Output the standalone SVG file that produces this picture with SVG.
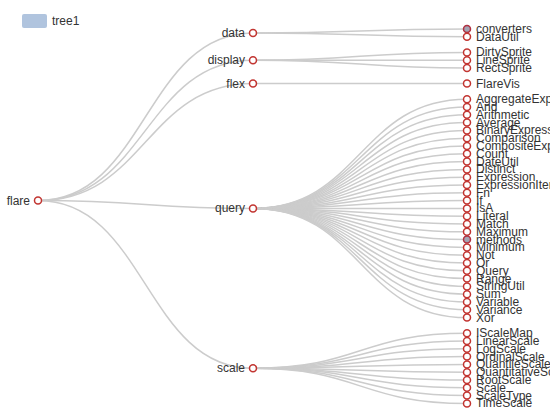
<svg xmlns="http://www.w3.org/2000/svg" width="550" height="420" viewBox="0 0 550 420">
<style>
.lk{fill:none;stroke:#ccc;stroke-width:1.5}
.n{fill:#fff;stroke:#c23531;stroke-width:1.5}
.nc{fill:#a3a3b3;stroke:#b03040;stroke-width:1.5}
text{font-family:"Liberation Sans",Arial,sans-serif;font-size:12px;fill:#333;dominant-baseline:central}
.r{text-anchor:end}
</style>
<rect width="550" height="420" fill="#fff"/>
<g id="legend"><rect x="22" y="14" width="25" height="14" rx="2" fill="#b0c4de"/><text x="52" y="21">tree1</text></g>
<g id="links">
<path class="lk" d="M38 200.6C145.5 200.6 145.5 32.9 253 32.9"/>
<path class="lk" d="M38 200.6C145.5 200.6 145.5 60.2 253 60.2"/>
<path class="lk" d="M38 200.6C145.5 200.6 145.5 83.6 253 83.6"/>
<path class="lk" d="M38 200.6C145.5 200.6 145.5 208.4 253 208.4"/>
<path class="lk" d="M38 200.6C145.5 200.6 145.5 368.3 253 368.3"/>
<path class="lk" d="M253 32.9C360 32.9 360 29 467 29"/>
<path class="lk" d="M253 32.9C360 32.9 360 36.8 467 36.8"/>
<path class="lk" d="M253 60.2C360 60.2 360 52.4 467 52.4"/>
<path class="lk" d="M253 60.2C360 60.2 360 60.2 467 60.2"/>
<path class="lk" d="M253 60.2C360 60.2 360 68 467 68"/>
<path class="lk" d="M253 83.6C360 83.6 360 83.6 467 83.6"/>
<path class="lk" d="M253 208.4C360 208.4 360 99.2 467 99.2"/>
<path class="lk" d="M253 208.4C360 208.4 360 107 467 107"/>
<path class="lk" d="M253 208.4C360 208.4 360 114.8 467 114.8"/>
<path class="lk" d="M253 208.4C360 208.4 360 122.6 467 122.6"/>
<path class="lk" d="M253 208.4C360 208.4 360 130.4 467 130.4"/>
<path class="lk" d="M253 208.4C360 208.4 360 138.2 467 138.2"/>
<path class="lk" d="M253 208.4C360 208.4 360 146 467 146"/>
<path class="lk" d="M253 208.4C360 208.4 360 153.8 467 153.8"/>
<path class="lk" d="M253 208.4C360 208.4 360 161.6 467 161.6"/>
<path class="lk" d="M253 208.4C360 208.4 360 169.4 467 169.4"/>
<path class="lk" d="M253 208.4C360 208.4 360 177.2 467 177.2"/>
<path class="lk" d="M253 208.4C360 208.4 360 185 467 185"/>
<path class="lk" d="M253 208.4C360 208.4 360 192.8 467 192.8"/>
<path class="lk" d="M253 208.4C360 208.4 360 200.6 467 200.6"/>
<path class="lk" d="M253 208.4C360 208.4 360 208.4 467 208.4"/>
<path class="lk" d="M253 208.4C360 208.4 360 216.2 467 216.2"/>
<path class="lk" d="M253 208.4C360 208.4 360 224 467 224"/>
<path class="lk" d="M253 208.4C360 208.4 360 231.8 467 231.8"/>
<path class="lk" d="M253 208.4C360 208.4 360 239.6 467 239.6"/>
<path class="lk" d="M253 208.4C360 208.4 360 247.4 467 247.4"/>
<path class="lk" d="M253 208.4C360 208.4 360 255.2 467 255.2"/>
<path class="lk" d="M253 208.4C360 208.4 360 263 467 263"/>
<path class="lk" d="M253 208.4C360 208.4 360 270.8 467 270.8"/>
<path class="lk" d="M253 208.4C360 208.4 360 278.6 467 278.6"/>
<path class="lk" d="M253 208.4C360 208.4 360 286.4 467 286.4"/>
<path class="lk" d="M253 208.4C360 208.4 360 294.2 467 294.2"/>
<path class="lk" d="M253 208.4C360 208.4 360 302 467 302"/>
<path class="lk" d="M253 208.4C360 208.4 360 309.8 467 309.8"/>
<path class="lk" d="M253 208.4C360 208.4 360 317.6 467 317.6"/>
<path class="lk" d="M253 368.3C360 368.3 360 333.2 467 333.2"/>
<path class="lk" d="M253 368.3C360 368.3 360 341 467 341"/>
<path class="lk" d="M253 368.3C360 368.3 360 348.8 467 348.8"/>
<path class="lk" d="M253 368.3C360 368.3 360 356.6 467 356.6"/>
<path class="lk" d="M253 368.3C360 368.3 360 364.4 467 364.4"/>
<path class="lk" d="M253 368.3C360 368.3 360 372.2 467 372.2"/>
<path class="lk" d="M253 368.3C360 368.3 360 380 467 380"/>
<path class="lk" d="M253 368.3C360 368.3 360 387.8 467 387.8"/>
<path class="lk" d="M253 368.3C360 368.3 360 395.6 467 395.6"/>
<path class="lk" d="M253 368.3C360 368.3 360 403.4 467 403.4"/>
</g>
<g id="flare"><circle class="n" cx="38" cy="200.6" r="3.5"/><text class="r" x="30" y="200.6">flare</text></g>
<g id="data"><circle class="n" cx="253" cy="32.9" r="3.5"/><text class="r" x="245" y="32.9">data</text></g>
<g id="display"><circle class="n" cx="253" cy="60.2" r="3.5"/><text class="r" x="245" y="60.2">display</text></g>
<g id="flex"><circle class="n" cx="253" cy="83.6" r="3.5"/><text class="r" x="245" y="83.6">flex</text></g>
<g id="query"><circle class="n" cx="253" cy="208.4" r="3.5"/><text class="r" x="245" y="208.4">query</text></g>
<g id="scale"><circle class="n" cx="253" cy="368.3" r="3.5"/><text class="r" x="245" y="368.3">scale</text></g>
<g id="converters"><circle class="nc" cx="467" cy="29" r="3.5"/><text x="476" y="29">converters</text></g>
<g id="DataUtil"><circle class="n" cx="467" cy="36.8" r="3.5"/><text x="476" y="36.8">DataUtil</text></g>
<g id="DirtySprite"><circle class="n" cx="467" cy="52.4" r="3.5"/><text x="476" y="52.4">DirtySprite</text></g>
<g id="LineSprite"><circle class="n" cx="467" cy="60.2" r="3.5"/><text x="476" y="60.2">LineSprite</text></g>
<g id="RectSprite"><circle class="n" cx="467" cy="68" r="3.5"/><text x="476" y="68">RectSprite</text></g>
<g id="FlareVis"><circle class="n" cx="467" cy="83.6" r="3.5"/><text x="476" y="83.6">FlareVis</text></g>
<g id="AggregateExpression"><circle class="n" cx="467" cy="99.2" r="3.5"/><text x="476" y="99.2">AggregateExpression</text></g>
<g id="And"><circle class="n" cx="467" cy="107" r="3.5"/><text x="476" y="107">And</text></g>
<g id="Arithmetic"><circle class="n" cx="467" cy="114.8" r="3.5"/><text x="476" y="114.8">Arithmetic</text></g>
<g id="Average"><circle class="n" cx="467" cy="122.6" r="3.5"/><text x="476" y="122.6">Average</text></g>
<g id="BinaryExpression"><circle class="n" cx="467" cy="130.4" r="3.5"/><text x="476" y="130.4">BinaryExpression</text></g>
<g id="Comparison"><circle class="n" cx="467" cy="138.2" r="3.5"/><text x="476" y="138.2">Comparison</text></g>
<g id="CompositeExpression"><circle class="n" cx="467" cy="146" r="3.5"/><text x="476" y="146">CompositeExpression</text></g>
<g id="Count"><circle class="n" cx="467" cy="153.8" r="3.5"/><text x="476" y="153.8">Count</text></g>
<g id="DateUtil"><circle class="n" cx="467" cy="161.6" r="3.5"/><text x="476" y="161.6">DateUtil</text></g>
<g id="Distinct"><circle class="n" cx="467" cy="169.4" r="3.5"/><text x="476" y="169.4">Distinct</text></g>
<g id="Expression"><circle class="n" cx="467" cy="177.2" r="3.5"/><text x="476" y="177.2">Expression</text></g>
<g id="ExpressionIterator"><circle class="n" cx="467" cy="185" r="3.5"/><text x="476" y="185">ExpressionIterator</text></g>
<g id="Fn"><circle class="n" cx="467" cy="192.8" r="3.5"/><text x="476" y="192.8">Fn</text></g>
<g id="If"><circle class="n" cx="467" cy="200.6" r="3.5"/><text x="476" y="200.6">If</text></g>
<g id="IsA"><circle class="n" cx="467" cy="208.4" r="3.5"/><text x="476" y="208.4">IsA</text></g>
<g id="Literal"><circle class="n" cx="467" cy="216.2" r="3.5"/><text x="476" y="216.2">Literal</text></g>
<g id="Match"><circle class="n" cx="467" cy="224" r="3.5"/><text x="476" y="224">Match</text></g>
<g id="Maximum"><circle class="n" cx="467" cy="231.8" r="3.5"/><text x="476" y="231.8">Maximum</text></g>
<g id="methods"><circle class="nc" cx="467" cy="239.6" r="3.5"/><text x="476" y="239.6">methods</text></g>
<g id="Minimum"><circle class="n" cx="467" cy="247.4" r="3.5"/><text x="476" y="247.4">Minimum</text></g>
<g id="Not"><circle class="n" cx="467" cy="255.2" r="3.5"/><text x="476" y="255.2">Not</text></g>
<g id="Or"><circle class="n" cx="467" cy="263" r="3.5"/><text x="476" y="263">Or</text></g>
<g id="Query"><circle class="n" cx="467" cy="270.8" r="3.5"/><text x="476" y="270.8">Query</text></g>
<g id="Range"><circle class="n" cx="467" cy="278.6" r="3.5"/><text x="476" y="278.6">Range</text></g>
<g id="StringUtil"><circle class="n" cx="467" cy="286.4" r="3.5"/><text x="476" y="286.4">StringUtil</text></g>
<g id="Sum"><circle class="n" cx="467" cy="294.2" r="3.5"/><text x="476" y="294.2">Sum</text></g>
<g id="Variable"><circle class="n" cx="467" cy="302" r="3.5"/><text x="476" y="302">Variable</text></g>
<g id="Variance"><circle class="n" cx="467" cy="309.8" r="3.5"/><text x="476" y="309.8">Variance</text></g>
<g id="Xor"><circle class="n" cx="467" cy="317.6" r="3.5"/><text x="476" y="317.6">Xor</text></g>
<g id="IScaleMap"><circle class="n" cx="467" cy="333.2" r="3.5"/><text x="476" y="333.2">IScaleMap</text></g>
<g id="LinearScale"><circle class="n" cx="467" cy="341" r="3.5"/><text x="476" y="341">LinearScale</text></g>
<g id="LogScale"><circle class="n" cx="467" cy="348.8" r="3.5"/><text x="476" y="348.8">LogScale</text></g>
<g id="OrdinalScale"><circle class="n" cx="467" cy="356.6" r="3.5"/><text x="476" y="356.6">OrdinalScale</text></g>
<g id="QuantileScale"><circle class="n" cx="467" cy="364.4" r="3.5"/><text x="476" y="364.4">QuantileScale</text></g>
<g id="QuantitativeScale"><circle class="n" cx="467" cy="372.2" r="3.5"/><text x="476" y="372.2">QuantitativeScale</text></g>
<g id="RootScale"><circle class="n" cx="467" cy="380" r="3.5"/><text x="476" y="380">RootScale</text></g>
<g id="Scale"><circle class="n" cx="467" cy="387.8" r="3.5"/><text x="476" y="387.8">Scale</text></g>
<g id="ScaleType"><circle class="n" cx="467" cy="395.6" r="3.5"/><text x="476" y="395.6">ScaleType</text></g>
<g id="TimeScale"><circle class="n" cx="467" cy="403.4" r="3.5"/><text x="476" y="403.4">TimeScale</text></g>
</svg>
